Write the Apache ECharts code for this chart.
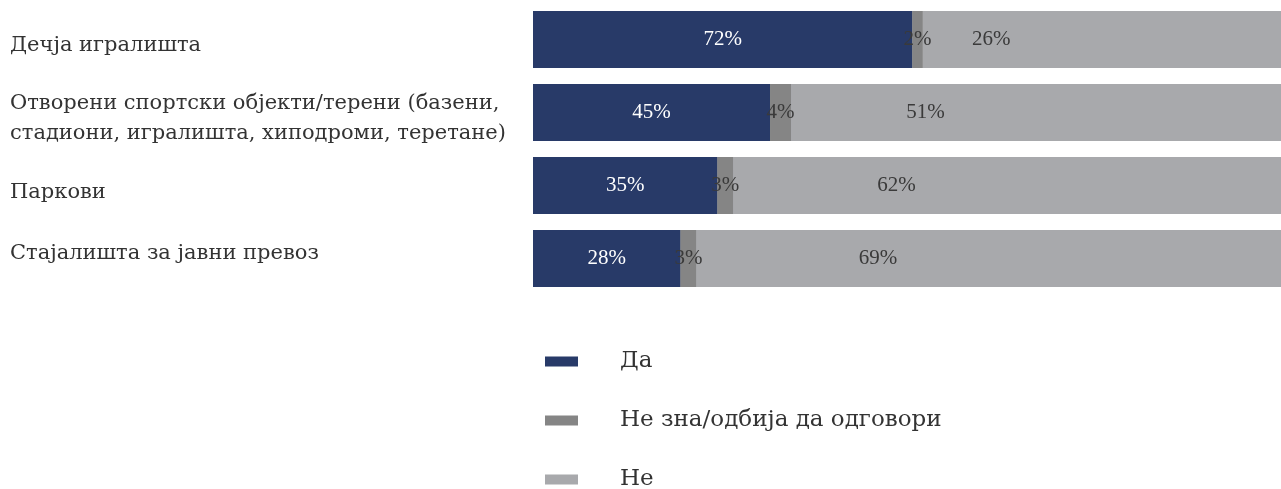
<!DOCTYPE html>
<html>
<head>
<meta charset="utf-8">
<script src="https://cdn.jsdelivr.net/npm/echarts@6/dist/echarts.min.js"></script>
<style>
  html, body { margin: 0; padding: 0; background: #fff; }
  #chart { width: 1281px; height: 489px; }
</style>
</head>
<body>
<div id="chart"></div>
<script>
  // категорије и вредности (у процентима)
  const categories = [
    'Дечја игралишта',
    'Отворени спортски објекти/терени (базени,\nстадиони, игралишта, хиподроми, теретане)',
    'Паркови',
    'Стајалишта за јавни превоз'
  ];
  const seriesNames = ['Да', 'Не зна/одбија да одговори', 'Не'];
  const yesValues = [72, 45, 35, 28];
  const dontKnowValues = [2, 4, 3, 3];
  const noValues = [26, 51, 62, 69];

  const colors = ['#283a68', '#858585', '#a8a9ac'];
  const labelFont = '"DejaVu Serif", serif';
  const numFont = '"Liberation Serif", serif';

  // вертикални помак натписа категорија (rich стилови)
  const richLabel = {
    s0: { padding: [12, 0, 0, 0] },
    s1: { padding: [12, 0, 0, 0] },
    s2: { padding: [14, 0, 0, 0] },
    s3: { padding: [0, 0, 10, 0] }
  };
  Object.keys(richLabel).forEach(k => {
    Object.assign(richLabel[k], { fontFamily: labelFont, fontSize: 21, lineHeight: 30, color: '#333', align: 'left' });
  });

  let myChart = echarts.init(document.getElementById('chart'));
  let option = {
    color: colors,
    textStyle: { fontFamily: labelFont },
    grid: { left: 533, right: 0, top: 3, height: 292, outerBoundsMode: 'none', containLabel: false },
    legend: {
      orient: 'vertical',
      left: 545,
      top: 350,
      height: 180,
      padding: 0,
      icon: 'rect',
      itemWidth: 33,
      itemHeight: 10,
      itemGap: 36,
      data: seriesNames,
      textStyle: {
        fontFamily: labelFont,
        fontSize: 23,
        color: '#333',
        lineHeight: 20,
        padding: [0, 0, 0, 37]
      }
    },
    xAxis: {
      type: 'value',
      min: 0,
      max: 142,
      show: false
    },
    yAxis: {
      type: 'category',
      inverse: true,
      data: categories,
      axisLine: { show: false },
      axisTick: { show: false },
      axisLabel: {
        align: 'left',
        margin: 523,
        fontFamily: labelFont,
        fontSize: 21,
        lineHeight: 30,
        color: '#333',
        formatter: (value, index) => value.split('\n').map(l => '{s' + index + '|' + l + '}').join('\n'),
        rich: richLabel
      }
    },
    series: [
      {
        name: seriesNames[0],
        type: 'bar',
        stack: 'total',
        barWidth: 57,
        showBackground: true,
        backgroundStyle: { color: colors[2] },
        label: { show: true, formatter: '{c}%', color: '#fff', fontFamily: numFont, fontSize: 21 },
        data: yesValues
      },
      {
        name: seriesNames[1],
        type: 'bar',
        stack: 'total',
        barWidth: 57,
        label: { show: true, formatter: '{c}%', color: '#3a3a3a', fontFamily: numFont, fontSize: 21 },
        data: dontKnowValues
      },
      {
        name: seriesNames[2],
        type: 'bar',
        stack: 'total',
        barWidth: 57,
        label: { show: true, formatter: '{c}%', color: '#3a3a3a', fontFamily: numFont, fontSize: 21 },
        data: noValues
      }
    ]
  };
  option && myChart.setOption(option);
</script>
</body>
</html>
